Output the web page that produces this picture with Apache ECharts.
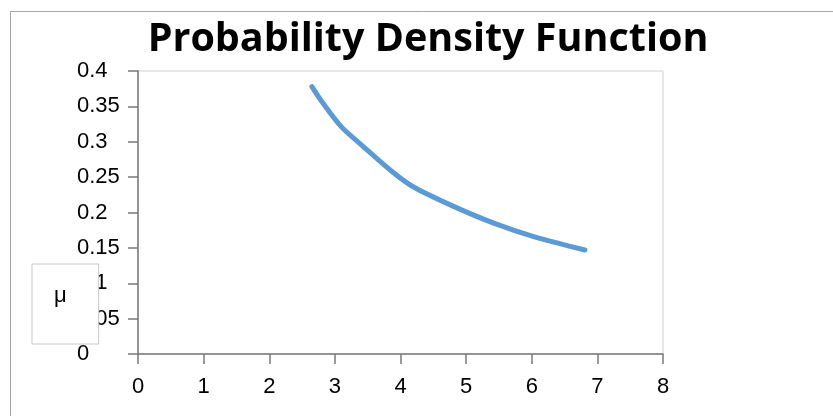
<!DOCTYPE html>
<html>
<head>
<meta charset="utf-8">
<script src="https://cdn.jsdelivr.net/npm/echarts@6/dist/echarts.min.js"></script>
<style>
html,body{margin:0;padding:0;background:#fff;}
#chart{width:833px;height:416px;}
</style>
</head>
<body>
<div id="chart"></div>
<script>
var titleText = 'Probability Density Function';
var seriesName = 'μ';
var xValues = [2.65, 2.8, 3.1, 3.4, 3.87, 4.2, 4.8, 5.42, 6.03, 6.81];
var yValues = [0.378, 0.357, 0.321, 0.296, 0.258, 0.236, 0.209, 0.185, 0.166, 0.147];
var xTicks = [0, 1, 2, 3, 4, 5, 6, 7, 8];
var yTicks = [0, 0.05, 0.1, 0.15, 0.2, 0.25, 0.3, 0.35, 0.4];

var labelFont = '"Liberation Sans", Arial, sans-serif';
var points = xValues.map(function (x, i) { return [x, yValues[i]]; });

var chart = echarts.init(document.getElementById('chart'));
chart.setOption({
  animation: false,
  backgroundColor: '#ffffff',
  title: {
    text: titleText,
    left: 423,
    textAlign: 'center',
    top: 15,
    textStyle: {
      fontFamily: '"Open Sans", "Liberation Sans", sans-serif',
      fontWeight: 'bold',
      fontSize: 39.5,
      color: '#000000'
    }
  },
  graphic: [{
    type: 'rect',
    shape: { x: 10.5, y: 11.5, width: 900, height: 500 },
    style: { fill: 'none', stroke: '#a6a6a6', lineWidth: 1 },
    silent: true,
    z: -10
  }],
  legend: {
    left: 32,
    top: 264,
    orient: 'vertical',
    backgroundColor: '#ffffff',
    borderColor: '#c8c8c8',
    borderWidth: 1,
    padding: [21, 32, 37, 17],
    itemWidth: 0,
    itemHeight: 22,
    icon: 'none',
    data: [seriesName],
    textStyle: { fontFamily: labelFont, fontSize: 22, color: '#000', lineHeight: 22 }
  },
  grid: {
    left: 138,
    top: 71,
    right: 170,
    bottom: 62,
    show: true,
    borderColor: '#d0d0d0',
    borderWidth: 1,
    containLabel: false
  },
  xAxis: {
    type: 'value',
    min: xTicks[0],
    max: xTicks[xTicks.length - 1],
    interval: 1,
    splitLine: { show: false },
    axisLine: { show: true, onZero: false, lineStyle: { color: '#7a7a7a', width: 1.5 } },
    axisTick: { show: true, length: 10, lineStyle: { color: '#7a7a7a', width: 1.5 } },
    axisLabel: {
      margin: 22,
      fontFamily: labelFont,
      fontSize: 22,
      color: '#000'
    }
  },
  yAxis: {
    type: 'value',
    min: yTicks[0],
    max: yTicks[yTicks.length - 1],
    interval: 0.05,
    splitLine: { show: false },
    axisLine: { show: true, onZero: false, lineStyle: { color: '#7a7a7a', width: 1.5 } },
    axisTick: { show: true, length: 10, lineStyle: { color: '#7a7a7a', width: 1.5 } },
    axisLabel: {
      margin: 61,
      align: 'left',
      fontFamily: labelFont,
      fontSize: 22,
      color: '#000',
      padding: [4, 0, 0, 0],
      formatter: function (v) { return String(Math.round(v * 100) / 100); }
    }
  },
  series: [{
    name: seriesName,
    type: 'line',
    data: points,
    smooth: 0.3,
    showSymbol: false,
    symbol: 'none',
    lineStyle: { color: '#5b9bd5', width: 5, cap: 'round' },
    itemStyle: { color: '#5b9bd5' }
  }]
});
</script>
</body>
</html>
